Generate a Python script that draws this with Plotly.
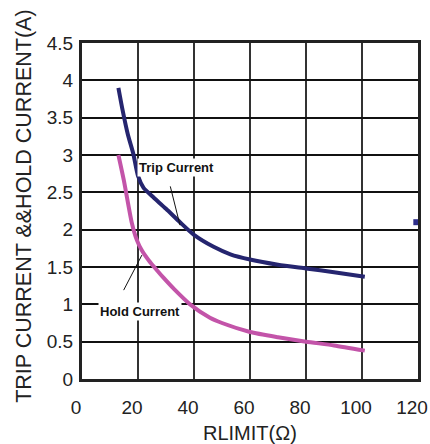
import plotly.graph_objects as go

trip_x = [13, 14.5, 16.4, 18.3, 20, 22, 25, 30, 35, 40, 47, 53, 60, 70, 80, 90, 101]
trip_y = [3.9, 3.6, 3.27, 3.02, 2.72, 2.56, 2.45, 2.28, 2.1, 1.93, 1.77, 1.67, 1.6, 1.53, 1.48, 1.43, 1.37]

hold_x = [13, 15, 17.8, 19.6, 21.4, 24, 26, 29, 33, 38.6, 45.7, 50, 60, 70, 80, 90, 101]
hold_y = [3.0, 2.65, 2.09, 1.86, 1.72, 1.58, 1.49, 1.36, 1.2, 1.0, 0.82, 0.75, 0.63, 0.56, 0.5, 0.45, 0.38]

x_ticks = [0, 20, 40, 60, 80, 100, 120]
y_ticks = [0, 0.5, 1, 1.5, 2, 2.5, 3, 3.5, 4, 4.5]
y_tick_labels = ["0", "0.5", "1", "1.5", "2", "2.5", "3", "3.5", "4", "4.5"]

stray_x = [119.4]
stray_y = [2.1]

trip_color = "#25256f"
hold_color = "#c354a9"

fig = go.Figure()
fig.add_trace(go.Scatter(x=trip_x, y=trip_y, mode="lines",
                         line=dict(color=trip_color, width=4, shape="spline", smoothing=0.6),
                         showlegend=False, hoverinfo="skip"))
fig.add_trace(go.Scatter(x=hold_x, y=hold_y, mode="lines",
                         line=dict(color=hold_color, width=4, shape="spline", smoothing=0.6),
                         showlegend=False, hoverinfo="skip"))
fig.add_trace(go.Scatter(x=stray_x, y=stray_y, mode="markers",
                         marker=dict(symbol="square", size=6, color="#2e2e8a"),
                         cliponaxis=False, showlegend=False, hoverinfo="skip"))

label_font = dict(family="Liberation Sans Narrow, Liberation Sans, Arial", size=13, color="#111")

# annotation leader lines
fig.add_annotation(x=35, y=2.06, ax=31.4, ay=2.6, xref="x", yref="y", axref="x", ayref="y",
                   text="", showarrow=True, arrowhead=0, arrowwidth=1, arrowcolor="#111")
fig.add_annotation(x=21.4, y=1.66, ax=14.6, ay=1.17, xref="x", yref="y", axref="x", ayref="y",
                   text="", showarrow=True, arrowhead=0, arrowwidth=1, arrowcolor="#111")
fig.add_annotation(x=33.6, y=2.83, text="<b>Trip Current</b>", showarrow=False,
                   font=label_font, bgcolor="white", borderpad=1)
fig.add_annotation(x=20.7, y=0.9, text="<b>Hold Current</b>", showarrow=False,
                   font=label_font, bgcolor="white", borderpad=1)

# axis titles
fig.add_annotation(xref="paper", yref="paper", x=-0.173, y=0.515, xanchor="center", yanchor="middle",
                   text="TRIP CURRENT &&HOLD CURRENT(A)", textangle=-90, showarrow=False,
                   font=dict(family="Liberation Sans, Arial", size=21.5, color="#222"))
fig.add_annotation(xref="paper", yref="paper", x=0.5, y=-0.161, xanchor="center", yanchor="middle",
                   text="RLIMIT(Ω)", showarrow=False,
                   font=dict(family="Liberation Sans, Arial", size=20, color="#222"))

fig.update_layout(
    width=430, height=444,
    margin=dict(l=82, r=12, t=43, b=65, autoexpand=False),
    paper_bgcolor="white", plot_bgcolor="white",
    font=dict(family="Liberation Sans, Arial", color="#222"),
)
fig.update_xaxes(range=[0, 120], tickvals=x_ticks, ticktext=[str(v) for v in x_ticks],
                 tickfont=dict(size=19, color="#222"), ticklabelshift=-6, ticklabelstandoff=9,
                 showgrid=True, gridcolor="#333", gridwidth=1.5,
                 showline=True, linecolor="#222", linewidth=3, mirror=True,
                 ticks="", zeroline=False, automargin=False)
fig.update_yaxes(range=[0, 4.5], tickvals=y_ticks, ticktext=y_tick_labels,
                 tickfont=dict(size=19, color="#222"), ticklabelstandoff=2,
                 showgrid=True, gridcolor="#111", gridwidth=1.5,
                 showline=True, linecolor="#222", linewidth=3, mirror=True,
                 ticks="", zeroline=False, automargin=False)

fig.write_html("out.html", config={"displayModeBar": False},
               post_script="document.body.style.margin='0';")
